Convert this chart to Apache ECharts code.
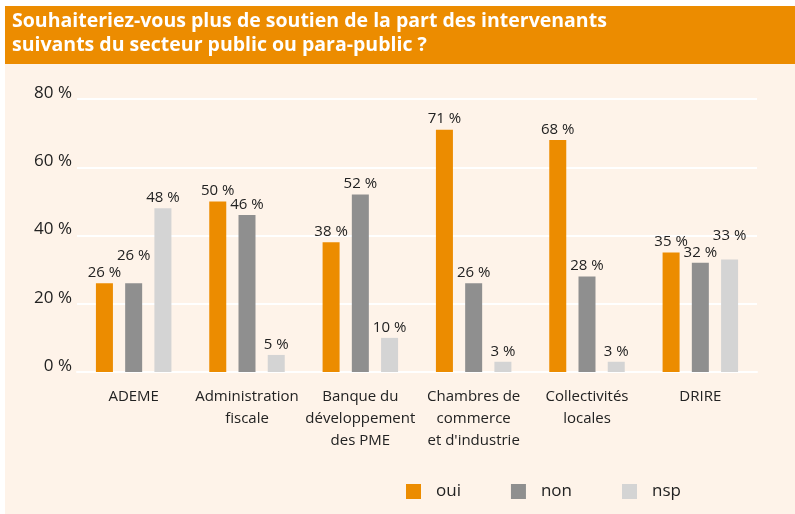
<!DOCTYPE html>
<html>
<head>
<meta charset="utf-8">
<script src="https://cdn.jsdelivr.net/npm/echarts@6/dist/echarts.min.js"></script>
<style>
  html, body { margin: 0; padding: 0; background: #ffffff; }
  #chart { width: 795px; height: 514px; }
</style>
</head>
<body>
<div id="chart"></div>
<script>
// data
var titleLines = [
  'Souhaiteriez-vous plus de soutien de la part des intervenants',
  'suivants du secteur public ou para-public ?'
];
var categories = [
  'ADEME',
  'Administration\nfiscale',
  'Banque du\ndéveloppement\ndes PME',
  'Chambres de\ncommerce\net d\'industrie',
  'Collectivités\nlocales',
  'DRIRE'
];
var seriesNames = ['oui', 'non', 'nsp'];
var oui = [26, 50, 38, 71, 68, 35];
var non = [26, 46, 52, 26, 28, 32];
var nsp = [48, 5, 10, 3, 3, 33];
var yTicks = [0, 20, 40, 60, 80];

var colors = ['#ec8c00', '#8f8f8f', '#d4d4d4'];
var font = '"Open Sans", sans-serif';
// labels that were pushed up in the original to avoid overlapping
var labelLift = { 'non': { 0: 17 }, 'nsp': { 5: 13 } };

var chart = echarts.init(document.getElementById('chart'));

function buildSeries(name, values, i) {
    var lifts = labelLift[name] || {};
    return {
        name: name,
        type: 'bar',
        barWidth: 17,
        barGap: '72%',
        itemStyle: { color: colors[i] },
        label: {
            show: true,
            position: 'top',
            distance: 3,
            formatter: '{c} %',
            color: '#222222',
            fontFamily: font,
            fontSize: 15
        },
        data: values.map(function (v, k) {
            if (lifts[k]) {
                return { value: v, label: { offset: [0, -lifts[k]] } };
            }
            return v;
        })
    };
}

var option = {
    backgroundColor: '#ffffff',
    animation: false,
    graphic: [
        { type: 'rect', silent: true, z: -10, shape: { x: 5, y: 6, width: 790, height: 58 }, style: { fill: '#ec8c00' } },
        { type: 'rect', silent: true, z: -10, shape: { x: 5, y: 64, width: 790, height: 450 }, style: { fill: '#fef3e9' } },
        { type: 'text', silent: true, left: 12, top: 9, style: { text: titleLines.join('\n'), fill: '#ffffff', font: 'bold 19.5px ' + font, lineHeight: 24 } }
    ],
    legend: {
        bottom: 14,
        left: 406,
        padding: 0,
        itemWidth: 15,
        itemHeight: 15,
        itemGap: 50,
        icon: 'rect',
        data: seriesNames,
        textStyle: { fontFamily: font, fontSize: 17, color: '#222222', padding: [0, 0, 0, 10] }
    },
    grid: { left: 77, right: 38, top: 99, bottom: 142 },
    xAxis: {
        type: 'category',
        data: categories,
        axisLine: { show: true, lineStyle: { color: '#ffffff', width: 2 } },
        axisTick: { show: false },
        axisLabel: { color: '#222222', fontFamily: font, fontSize: 15, lineHeight: 22, margin: 14, interval: 0 }
    },
    yAxis: {
        type: 'value',
        min: yTicks[0],
        max: yTicks[yTicks.length - 1],
        interval: 20,
        axisLine: { show: false },
        axisTick: { show: false },
        splitLine: { lineStyle: { color: '#ffffff', width: 2 } },
        axisLabel: { formatter: '{value} %', color: '#222222', fontFamily: font, fontSize: 17, margin: 5, verticalAlign: 'bottom', lineHeight: 12 }
    },
    series: [
        buildSeries('oui', oui, 0),
        buildSeries('non', non, 1),
        buildSeries('nsp', nsp, 2)
    ]
};

chart.setOption(option);
</script>
</body>
</html>
